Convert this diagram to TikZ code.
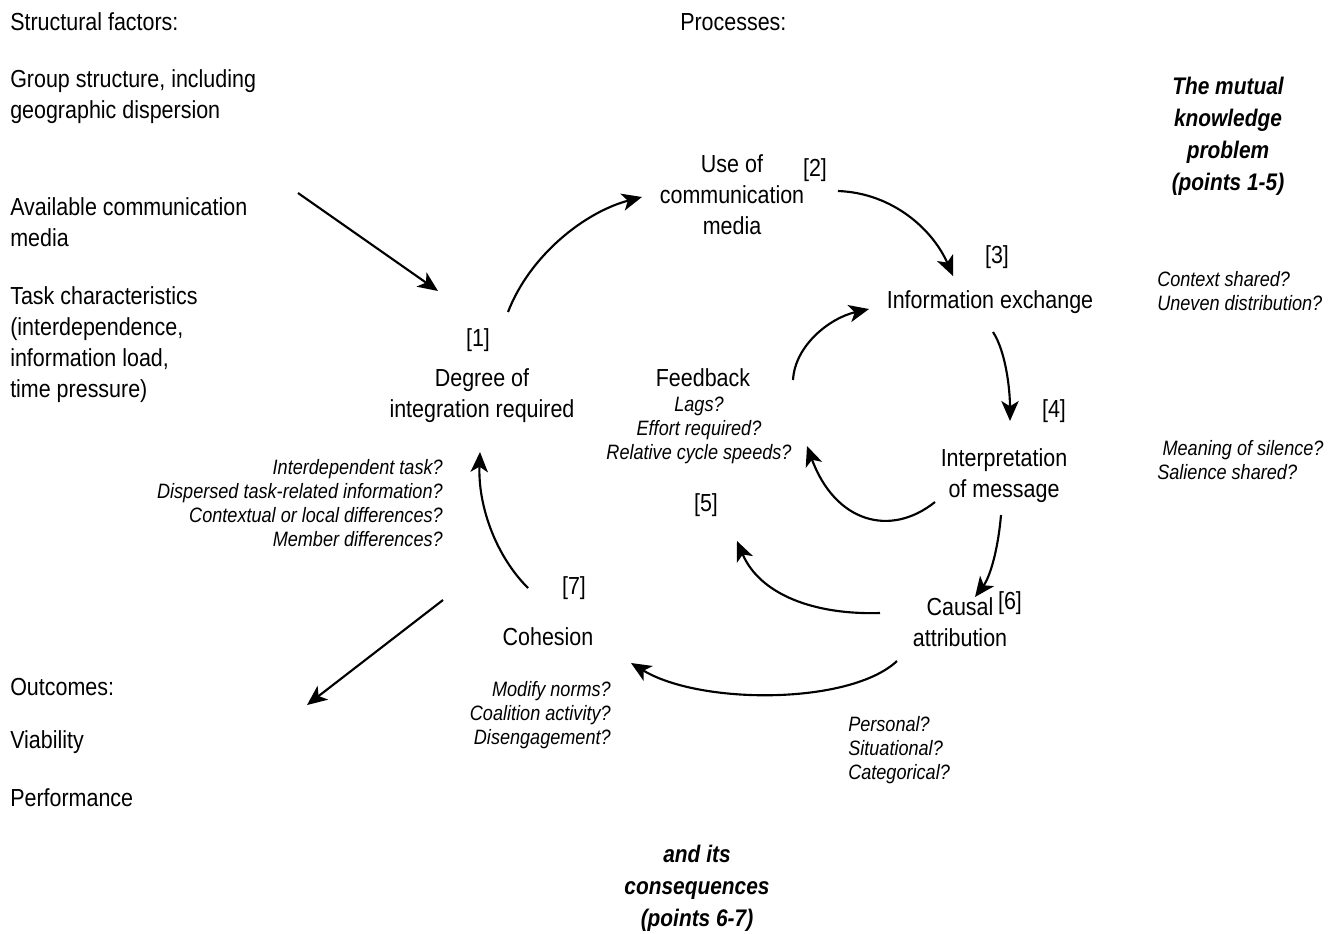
\documentclass[tikz,border=0pt]{standalone}
\usepackage{fontspec}
\setmainfont{Liberation Sans}[FakeStretch=0.87]
\usetikzlibrary{arrows.meta}
\tikzset{
  txt/.style={inner sep=0pt, font=\fontsize{18.5}{23.3}\selectfont},
  qtxt/.style={inner sep=0pt, font=\fontsize{15.6}{18}\selectfont\itshape},
  btxt/.style={inner sep=0pt, align=center, font=\fontsize{18}{24}\selectfont\bfseries\itshape},
  flow/.style={line width=1.6pt, -{Stealth[length=15pt,width=13pt,inset=4pt]}}
}
\begin{document}
\begin{tikzpicture}[x=0.75pt,y=0.75pt,yscale=-1,xscale=1]
        \useasboundingbox (0,0) rectangle (1335,933);
        % Text Node
        \node (sf) at (10,22) [txt, anchor=west] {Structural factors:};
        % Text Node
        \node (gs) at (10,96.5) [txt, anchor=west, align=left] {Group structure, including\\geographic dispersion};
        % Text Node
        \node (acm) at (10,222) [txt, anchor=west, align=left] {Available communication\\media};
        % Text Node
        \node (tc) at (10,345) [txt, anchor=west, align=left] {Task characteristics\\(interdependence,\\information load,\\time pressure)};
        % Text Node
        \node (outc) at (10,687) [txt, anchor=west] {Outcomes:};
        % Text Node
        \node (via) at (10,742) [txt, anchor=west] {Viability};
        % Text Node
        \node (perf) at (10,798) [txt, anchor=west] {Performance};
        % Text Node
        \node (proc) at (680,22) [txt, anchor=west] {Processes:};
        % Text Node
        \node (n1) at (478,340) [txt] {[1]};
        \node (deg) at (482,396) [txt, align=center] {Degree of\\integration required};
        % Text Node
        \node (n2) at (815,170) [txt] {[2]};
        \node (med) at (732,195) [txt, align=center] {Use of\\communication\\media};
        % Text Node
        \node (n3) at (997,257) [txt] {[3]};
        \node (ie) at (990,302) [txt] {Information exchange};
        % Text Node
        \node (n4) at (1054,411) [txt] {[4]};
        \node (interp) at (1004,476) [txt, align=center] {Interpretation\\of message};
        % Text Node
        \node (causal) at (960,622) [txt, align=center] {Causal\\attribution};
        \node (n6) at (1010,603) [txt] {[6]};
        % Text Node
        \node (n7) at (574,588) [txt] {[7]};
        \node (coh) at (548,637) [txt] {Cohesion};
        % Text Node
        \node (fb) at (703,378) [txt] {Feedback};
        \node (fbq) at (699,430) [qtxt, align=center] {Lags?\\Effort required?\\Relative cycle speeds?};
        \node (n5) at (706,505) [txt] {[5]};
        % Question Nodes
        \node (degq) at (443,503.5) [qtxt, anchor=east, align=right] {Interdependent task?\\Dispersed task-related information?\\Contextual or local differences?\\Member differences?};
        \node (cohq) at (611,715) [qtxt, anchor=east, align=right] {Modify norms?\\Coalition activity?\\Disengagement?};
        \node (causq) at (848,750) [qtxt, anchor=west, align=left] {Personal?\\Situational?\\Categorical?};
        \node (ieq) at (1157,291.5) [qtxt, anchor=west, align=left] {Context shared?\\Uneven distribution?};
        \node (interpq) at (1157,460.5) [qtxt, anchor=west, align=left] {\hspace{4pt}Meaning of silence?\\Salience shared?};
        % Bold Text Nodes
        \node (mkp) at (1228,136) [btxt] {The mutual\\knowledge\\problem\\(points 1-5)};
        \node (cons) at (697,888) [btxt] {and its\\consequences\\(points 6-7)};
        % Arrow end points
        \coordinate (sfout) at (298,193);
        \coordinate (degin) at (438,291);
        \coordinate (degout) at (508,312);
        \coordinate (medin) at (642,197);
        \coordinate (medout) at (838,191);
        \coordinate (iein) at (953,276);
        \coordinate (ieout) at (993,332);
        \coordinate (interpin) at (1010,421);
        \coordinate (interpout) at (1001,515);
        \coordinate (causin) at (975,597);
        \coordinate (interpfb) at (935,502);
        \coordinate (fbin) at (807,446);
        \coordinate (fbout) at (793,380);
        \coordinate (ieinfb) at (869,309);
        \coordinate (causfb) at (880,613);
        \coordinate (fbin2) at (737,541);
        \coordinate (causout) at (897,661);
        \coordinate (cohin) at (631,663);
        \coordinate (cohout) at (528,588);
        \coordinate (degin2) at (480,452);
        \coordinate (cohdown) at (443,600);
        \coordinate (outin) at (307,705);
        %Straight Lines
        \draw [flow] (sfout) -- (degin);
        \draw [flow] (cohdown) -- (outin);
        %Curve Lines
        \draw [flow] (degout) .. controls (530,255) and (585,212) .. (medin);
        \draw [flow] (medout) .. controls (893,193) and (933,230) .. (iein);
        \draw [flow] (ieout) .. controls (1006,352) and (1010,390) .. (interpin);
        \draw [flow] (interpout) .. controls (998,550) and (990,577) .. (causin);
        \draw [flow] (interpfb) .. controls (890,538) and (835,522) .. (fbin);
        \draw [flow] (fbout) .. controls (795,345) and (830,318) .. (ieinfb);
        \draw [flow] (causfb) .. controls (815,615) and (760,595) .. (fbin2);
        \draw [flow] (causout) .. controls (850,705) and (700,705) .. (cohin);
        \draw [flow] (cohout) .. controls (495,555) and (478,505) .. (degin2);
\end{tikzpicture}
\end{document}
